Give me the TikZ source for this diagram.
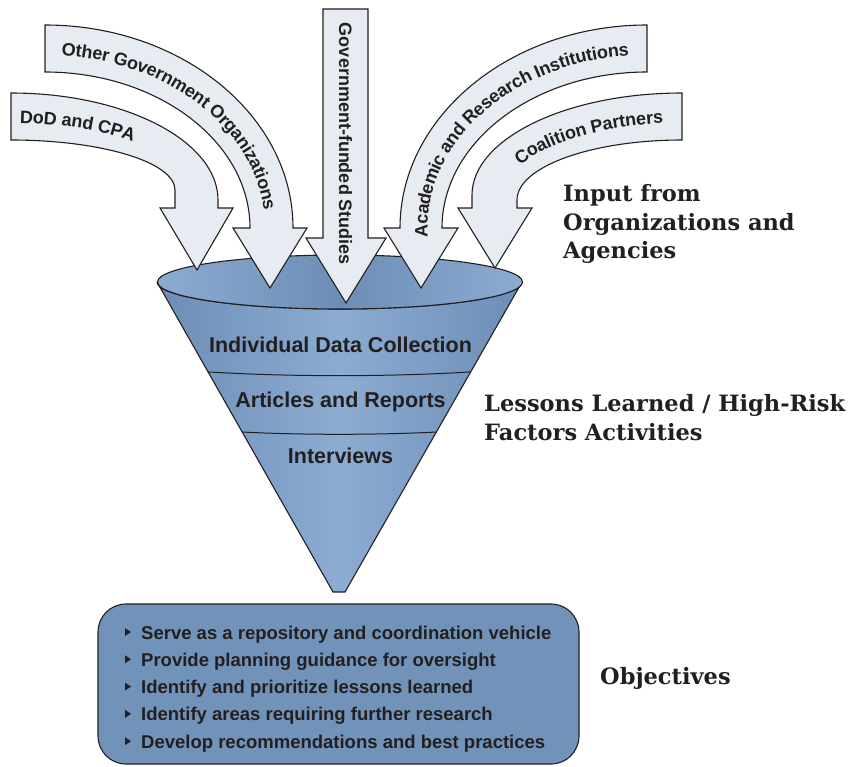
\documentclass[tikz,border=0pt]{standalone}
\usepackage{fontspec}
\setsansfont{Liberation Sans}
\newfontfamily\headserif{DejaVu Serif}[UprightFont=* Bold]
\usepackage{tikz}
\usetikzlibrary{calc}
\usetikzlibrary{decorations.text}

\definecolor{inkgray}{RGB}{35,31,32}
\definecolor{arrowfill}{RGB}{231,236,243}
\definecolor{funnellight}{RGB}{140,172,210}
\definecolor{funneldark}{RGB}{108,141,181}
\definecolor{objfill}{RGB}{113,147,186}

\newcommand{\arrowfont}{\sffamily\bfseries\fontsize{18}{18}\selectfont}
\newcommand{\layerfont}{\sffamily\bfseries\fontsize{21.5}{22}\selectfont}
\newcommand{\itemfont}{\sffamily\bfseries\fontsize{18.5}{19}\selectfont}
\newcommand{\headfont}{\headserif\fontsize{22.5}{28.8}\selectfont}

\begin{document}
\begin{tikzpicture}[x=1pt, y=-1pt,
   inflow/.style={draw=inkgray, fill=arrowfill, line width=1.1pt, line join=miter},
   inflowtext/.style={decorate, decoration={text along path, text color=inkgray, raise=-6.5pt}},
   funnelbody/.style={draw=inkgray, line width=1.1pt, left color=funneldark, right color=funneldark, middle color=funnellight},
   funnelrim/.style={draw=inkgray, line width=1.1pt, left color=funnellight, right color=funnellight, middle color=funneldark},
   layer/.style={font=\layerfont, text=inkgray, anchor=base, inner sep=0pt},
   objbox/.style={draw=inkgray, fill=objfill, line width=1.1pt, rounded corners=28pt, minimum width=481pt, minimum height=160pt},
   objitem/.style={font=\itemfont, text=inkgray, anchor=base west, inner sep=0pt},
   heading/.style={font=\headfont, text=inkgray, align=left, inner sep=0pt}
]
   \useasboundingbox (0,0) rectangle (859,766);

   % funnel
   \coordinate (rimL) at (157,282);
   \coordinate (rimR) at (522,282);
   \coordinate (tipL) at (333,592);
   \coordinate (tipR) at (345,592);

   \draw[funnelbody] (rimL) -- (tipL) -- (tipR) -- (rimR)
      .. controls (522,297) and (441,309) .. (340,309)
      .. controls (239,309) and (157,297) .. (rimL) -- cycle;
   \draw[funnelrim] (340,282) ellipse [x radius=182.5, y radius=27];

   \draw[inkgray, line width=1pt] ($(rimL)!.29!(tipL)$) .. controls +(80,5) and +(-80,5) .. ($(rimR)!.29!(tipR)$);
   \draw[inkgray, line width=1pt] ($(rimL)!.484!(tipL)$) .. controls +(60,3) and +(-60,3) .. ($(rimR)!.484!(tipR)$);

   \node[layer] (collect) at (340.5,352) {Individual Data Collection};
   \node[layer] (reports) at (340.5,407) {Articles and Reports};
   \node[layer] (interv) at (340.5,463) {Interviews};

   % arrows into the funnel
   \draw[inflow] (11,93) .. controls (125,93) and (218,141) .. (218,200) -- (218,208)
      -- (233,208) -- (197,270) -- (160,208) -- (175,208) -- (175,190)
      .. controls (175,162) and (101,140) .. (11,140) -- cycle;
   \path[inflowtext, decoration={text={|\arrowfont|DoD and CPA}, text align={left indent=9pt}}]
      (11,116.5) .. controls (118,116.5) and (196.5,150) .. (196.5,198);

   \draw[inflow] (45,25) .. controls (182,25) and (293,116) .. (293,228)
      -- (307,228) -- (270,288) -- (233,228) -- (250,228)
      .. controls (250,142) and (158,72) .. (45,72) -- cycle;
   \path[inflowtext, decoration={text={|\arrowfont|Other Government Organizations}, text align={left indent=17pt}}]
      (45,48.5) .. controls (170,48.5) and (271.5,129) .. (271.5,228);

   \draw[inflow] (323,9) -- (368,9) -- (368,238) -- (386,238) -- (346,303)
      -- (306,238) -- (323,238) -- cycle;
   \node[font=\arrowfont, text=inkgray, rotate=-90, inner sep=0pt] (studies) at (345.5,144) {Government-funded Studies};

   \draw[inflow] (647,25) .. controls (511,25) and (400,116) .. (400,228)
      -- (384,228) -- (421,288) -- (458,228) -- (442,228)
      .. controls (442,142) and (534,72) .. (647,72) -- cycle;
   \path[inflowtext, decoration={text={|\arrowfont|Academic and Research Institutions}, text align={left indent=3pt}}]
      (421,240) -- (421,228) .. controls (421,129) and (522,48.5) .. (647,48.5);

   \draw[inflow] (682,93) .. controls (566,93) and (472,139) .. (472,195) -- (472,208)
      -- (458,208) -- (495,268) -- (532,208) -- (517,208) -- (517,200)
      .. controls (517,167) and (591,140) .. (682,140) -- cycle;
   \path[inflowtext, decoration={text={|\arrowfont|Coalition Partners}, text align={left indent=55pt}}]
      (495,208) -- (495,198) .. controls (495,153) and (579,116.5) .. (682,116.5);

   % objectives
   \node[objbox] (obj) at (338.5,684) {};
   \foreach \txt [count=\i] in {Serve as a repository and coordination vehicle,
         Provide planning guidance for oversight,
         Identify and prioritize lessons learned,
         Identify areas requiring further research,
         Develop recommendations and best practices}
   {
      \node[objitem] (item\i) at (141,{639+27.3*(\i-1)}) {\txt};
      \fill[inkgray] ($(item\i.base west)+(-16,-11)$) -- ++(0,8) -- ++(6,-4) -- cycle;
   }

   % headings on the right
   \node[heading, anchor=west] (inputs) at (563,224) {Input from\\Organizations and\\Agencies};
   \node[heading, anchor=west] (lessons) at (484,417.5) {Lessons Learned / High-Risk\\Factors Activities};
   \node[heading, anchor=base west] (goals) at (600,684) {Objectives};
\end{tikzpicture}
\end{document}
